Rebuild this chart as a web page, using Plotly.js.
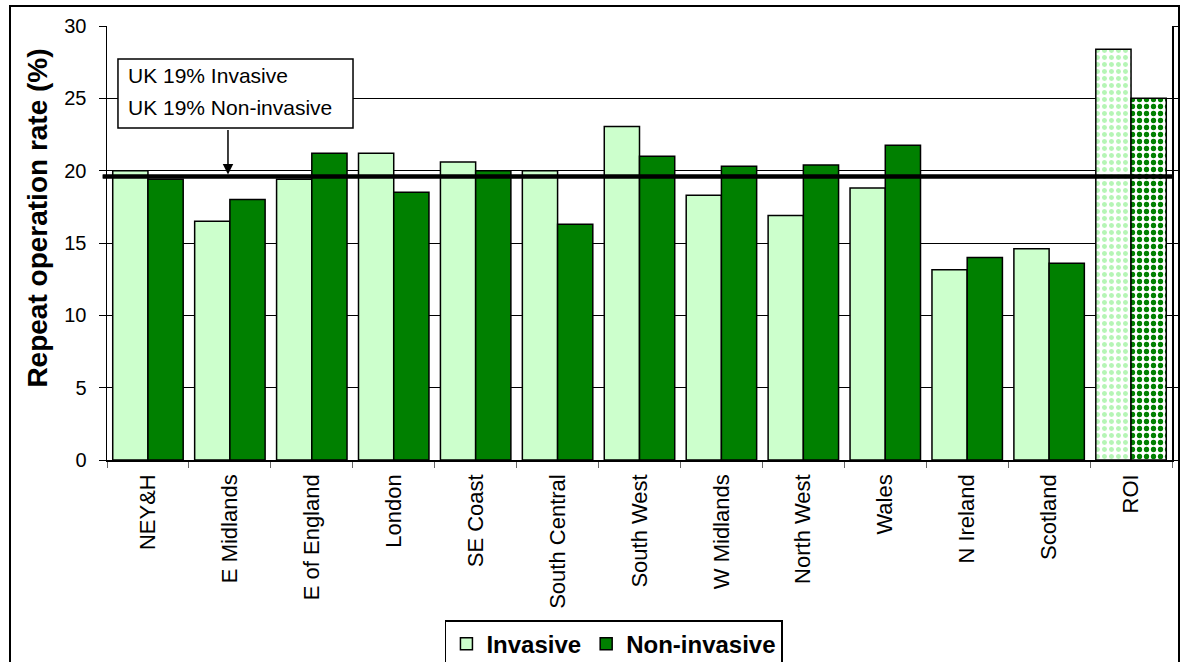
<!DOCTYPE html>
<html>
<head>
<meta charset="utf-8">
<script src="https://cdn.plot.ly/plotly-3.0.1.min.js"></script>
<style>
  html, body { margin: 0; padding: 0; background: #fff; }
  #chart { width: 1180px; height: 662px; }
  #frame { position: absolute; left: 9px; top: 5px; width: 1167px; height: 655px; border: 2px solid #000; pointer-events: none; }
</style>
</head>
<body>
<div id="chart"></div>
<div id="frame"></div>
<script>
const categories = ['NEY&H', 'E Midlands', 'E of England', 'London', 'SE Coast', 'South Central',
  'South West', 'W Midlands', 'North West', 'Wales', 'N Ireland', 'Scotland', 'ROI'];
const invasive = [20.0, 16.5, 19.4, 21.2, 20.6, 20.0, 23.05, 18.3, 16.9, 18.8, 13.15, 14.6, 28.4];
const nonInvasive = [19.4, 18.0, 21.2, 18.5, 20.0, 16.3, 21.0, 20.3, 20.4, 21.75, 14.0, 13.6, 25.0];
const ukInvasive = 19.6;
const ukNonInvasive = 19.6;
const yTicks = [0, 5, 10, 15, 20, 25, 30];
const patterned = ['ROI'];

const FONT = 'Liberation Sans, Arial, sans-serif';
const lightGreen = '#CCFFCC';
const darkGreen = '#008000';
const shapes = categories.map(c => patterned.includes(c) ? '.' : '');

const traces = [
  {
    type: 'bar', name: 'Invasive', x: categories, y: invasive,
    marker: {
      color: lightGreen,
      line: { color: '#000', width: 1.5 },
      pattern: { shape: shapes, fgcolor: '#B5F5B5', bgcolor: '#FFFFFF', fillmode: 'replace', size: 7, solidity: 0.4 }
    },
    hoverinfo: 'x+y'
  },
  {
    type: 'bar', name: 'Non-invasive', x: categories, y: nonInvasive,
    marker: {
      color: darkGreen,
      line: { color: '#000', width: 1.5 },
      pattern: { shape: shapes, fgcolor: darkGreen, bgcolor: '#FFFFFF', fillmode: 'replace', size: 7, solidity: 0.45 }
    },
    hoverinfo: 'x+y'
  }
];

const layout = {
  width: 1180, height: 662,
  margin: { l: 107, r: 8, t: 26, b: 202, pad: 0, autoexpand: false },
  paper_bgcolor: '#fff', plot_bgcolor: '#fff',
  font: { family: FONT, color: '#000', size: 20 },
  barmode: 'group', bargap: 0.14, bargroupgap: 0,
  showlegend: true,
  legend: {
    orientation: 'h', x: 0.476, xanchor: 'center', y: -0.369, yanchor: 'top',
    bordercolor: '#000', borderwidth: 1.5, bgcolor: '#fff',
    font: { family: FONT, size: 24, weight: 'bold', color: '#000' },
    traceorder: 'normal', itemwidth: 30
  },
  xaxis: {
    type: 'category', tickangle: -90, automargin: false,
    tickson: 'boundaries', ticks: 'outside', ticklen: 6, tickcolor: '#666', tickwidth: 1,
    showline: true, linecolor: '#000', linewidth: 1.5,
    tickfont: { family: FONT, size: 22, color: '#000' },
    ticklabelstandoff: 4,
    showgrid: false, fixedrange: true
  },
  yaxis: {
    range: [0, 30], tickvals: yTicks, ticktext: yTicks.map(String), automargin: false,
    ticks: 'outside', ticklen: 7, tickcolor: '#000', tickwidth: 1,
    showline: true, linecolor: '#000', linewidth: 1.5, mirror: 'ticks',
    showgrid: true, gridcolor: '#000', gridwidth: 1,
    zeroline: false,
    tickfont: { family: FONT, size: 20, color: '#000' },
    ticklabelstandoff: 8, fixedrange: true
  },
  shapes: [
    { type: 'line', xref: 'paper', yref: 'y', x0: -0.004, x1: 1, y0: ukInvasive, y1: ukInvasive, line: { color: '#000', width: 4 }, layer: 'above' },
    { type: 'line', xref: 'paper', yref: 'y', x0: -0.004, x1: 1, y0: ukNonInvasive, y1: ukNonInvasive, line: { color: '#000', width: 4 }, layer: 'above' },
    { type: 'rect', xref: 'paper', yref: 'paper', x0: 0.0103, x1: 0.231, y0: 0.765, y1: 0.924, fillcolor: '#fff', line: { color: '#000', width: 1.5 }, layer: 'above' }
  ],
  annotations: [
    { xref: 'paper', yref: 'paper', x: 0.0178, y: 0.887, xanchor: 'left', yanchor: 'middle', showarrow: false,
      text: 'UK 19% Invasive', font: { family: FONT, size: 21, color: '#000' } },
    { xref: 'paper', yref: 'paper', x: 0.0178, y: 0.813, xanchor: 'left', yanchor: 'middle', showarrow: false,
      text: 'UK 19% Non-invasive', font: { family: FONT, size: 21, color: '#000' } },
    { xref: 'paper', yref: 'y', x: 0.1136, y: ukInvasive, text: '', showarrow: true,
      ax: 0, ay: -48, axref: 'pixel', ayref: 'pixel', arrowhead: 2, arrowsize: 1.4, arrowwidth: 1.5, arrowcolor: '#000', standoff: 2 },
    { xref: 'paper', yref: 'paper', x: -0.065, y: 0.558, textangle: -90, showarrow: false,
      xanchor: 'center', yanchor: 'middle',
      text: 'Repeat operation rate (%)', font: { family: FONT, size: 28, weight: 'bold', color: '#000' } }
  ]
};

Plotly.newPlot('chart', traces, layout, { displayModeBar: false, staticPlot: true });
</script>
</body>
</html>
